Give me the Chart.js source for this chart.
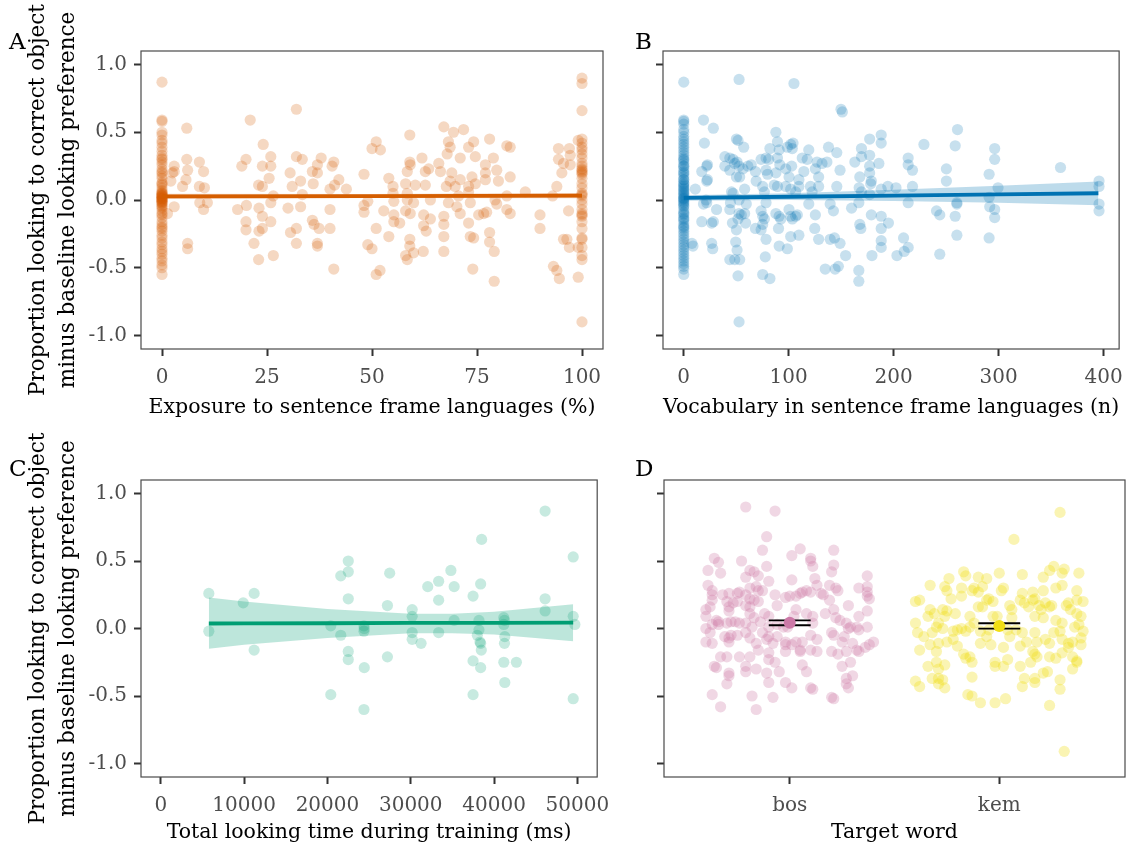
<!DOCTYPE html>
<html>
<head>
<meta charset="utf-8">
<script src="https://cdn.jsdelivr.net/npm/chart.js@4.4.1/dist/chart.umd.min.js"></script>
<style>
  html, body { margin: 0; padding: 0; background: #fff; }
  #page { position: relative; width: 1133px; height: 847px; }
  canvas { position: absolute; }
</style>
</head>
<body>
<div id="page">
  <canvas id="panel-a" width="620" height="424" style="left:0;top:0"></canvas>
  <canvas id="panel-b" width="513" height="424" style="left:620px;top:0"></canvas>
  <canvas id="panel-c" width="620" height="423" style="left:0;top:424px"></canvas>
  <canvas id="panel-d" width="513" height="423" style="left:620px;top:424px"></canvas>
</div>
<script>
// ---- data ----
const yTicks = [-1, -0.5, 0, 0.5, 1];
const yTickLabels = ['-1.0', '-0.5', '0.0', '0.5', '1.0'];
const exposureTicks = [0, 25, 50, 75, 100];
const vocabTicks = [0, 100, 200, 300, 400];
const lookingTicks = [0, 10000, 20000, 30000, 40000, 50000];
const targetWords = ['bos', 'kem'];

// panel A: children with 0 % and 100 % exposure, then the rest
const exposureZeroY = [0.87,0.59,0.58,0.50,0.48,0.44,0.42,0.39,0.36,0.33,0.31,0.28,0.26,0.23,0.21,0.18,0.16,0.13,0.11,0.09,0.06,0.05,0.04,0.03,0.02,0.01,0.00,-0.01,-0.02,-0.03,-0.04,-0.06,-0.08,-0.11,-0.13,-0.16,-0.18,-0.21,-0.23,-0.26,-0.28,-0.31,-0.33,-0.36,-0.38,-0.40,-0.43,-0.45,-0.48,-0.50,-0.55,0.02,0.04,0.00,-0.02,0.01,0.05,0.03,-0.05,0.07,0.12,-0.10,0.20,-0.20,0.30,0.03,0.01,-0.01];
const exposureFullY = [0.90,0.86,0.66,0.45,0.42,0.39,0.37,0.34,0.31,0.27,0.23,0.22,0.19,0.16,0.12,0.09,0.05,0.03,0.00,-0.03,-0.07,-0.11,-0.12,-0.16,-0.21,-0.28,-0.29,-0.35,-0.41,-0.44,-0.90,0.20,0.25,-0.10,0.21,0.04];
const exposurePoints = [
  [2.9,0.25],[2.5,0.20],[2.9,0.21],[2.1,0.14],[5.9,0.53],[5.9,0.30],[6.1,0.22],[4.9,0.10],[5.7,0.15],[8.9,0.28],
  [9.9,0.21],[8.9,0.10],[10.1,0.09],[9.0,-0.02],[9.9,-0.07],[10.8,-0.02],[2.9,-0.05],[1.3,-0.10],[6.1,-0.32],[6.1,-0.36],
  [18.0,-0.07],[19.0,0.25],[20.0,0.30],[21.0,0.59],[20.1,-0.04],[20.0,-0.16],[20.0,-0.22],[21.9,-0.32],[23.0,-0.44],[23.1,-0.23],
  [23.9,-0.21],[23.1,-0.06],[23.9,-0.12],[23.9,0.25],[24.1,0.41],[23.0,0.11],[25.9,0.32],[25.9,0.25],[25.5,0.16],[25.9,-0.16],
  [26.5,-0.41],[26.5,0.03],[25.9,-0.02],[23.9,0.10],[30.5,0.20],[30.0,-0.06],[30.6,-0.24],[32.0,-0.32],[32.0,-0.21],[31.0,0.10],
  [32.0,0.32],[33.4,0.30],[33.0,0.14],[33.0,-0.05],[33.4,0.04],[32.0,0.67],[36.0,0.12],[35.8,0.21],[37.0,0.26],[37.9,0.31],
  [37.0,0.20],[35.8,-0.15],[36.2,-0.18],[37.4,-0.21],[37.0,-0.32],[37.0,-0.34],[40.0,-0.21],[40.0,-0.07],[40.5,0.25],[40.9,0.28],
  [40.9,-0.51],[41.1,0.11],[42.1,0.15],[43.9,0.08],[40.0,0.08],[48.1,0.19],[48.1,-0.04],[48.1,-0.09],[49.0,-0.01],[49.0,-0.33],
  [50.0,-0.36],[51.0,0.43],[50.0,0.38],[52.0,0.37],[51.0,-0.21],[54.0,0.16],[54.0,-0.27],[51.0,-0.55],[51.9,-0.52],[52.8,-0.08],
  [55.0,0.10],[55.0,0.05],[55.2,-0.01],[55.2,-0.11],[55.2,-0.16],[56.6,-0.17],[58.0,0.12],[58.4,0.05],[59.0,0.48],[59.0,0.28],
  [59.1,0.26],[58.4,0.21],[58.0,-0.08],[58.4,0.00],[59.9,-0.02],[59.1,-0.10],[60.3,0.11],[59.0,-0.29],[59.0,-0.34],[58.0,-0.41],
  [58.4,-0.44],[59.9,-0.39],[61.9,0.31],[62.2,-0.38],[62.3,-0.11],[62.3,-0.19],[62.9,-0.23],[62.7,0.11],[62.7,0.21],[63.5,0.23],
  [63.9,0.00],[63.9,-0.14],[65.9,0.27],[66.3,0.21],[67.1,0.54],[67.1,-0.12],[67.1,-0.18],[67.1,-0.27],[67.1,-0.38],[67.7,0.10],
  [67.9,0.34],[68.2,0.43],[68.6,0.39],[68.2,-0.02],[68.6,0.14],[69.0,0.20],[69.4,0.50],[69.8,0.10],[71.0,0.31],[71.0,0.15],
  [70.6,0.03],[70.2,-0.05],[71.0,-0.10],[71.8,0.52],[73.0,0.39],[73.0,0.10],[73.0,0.06],[73.4,-0.02],[73.0,-0.17],[73.4,-0.27],
  [74.2,-0.28],[74.0,-0.51],[74.2,0.43],[74.6,0.32],[73.8,0.17],[74.6,0.12],[75.4,-0.11],[76.6,-0.10],[77.0,0.26],[77.0,0.20],
  [77.0,0.15],[77.3,-0.09],[78.0,0.45],[78.0,-0.24],[78.0,-0.31],[78.9,0.31],[79.1,-0.38],[79.1,-0.60],[79.7,0.22],[80.1,0.14],
  [79.3,0.00],[79.7,-0.03],[82.1,0.40],[82.9,0.39],[82.9,0.17],[82.1,0.03],[82.1,-0.07],[82.9,-0.10],[86.5,0.06],[90.0,-0.11],
  [90.0,-0.21],[93.2,-0.49],[94.0,-0.52],[94.6,-0.58],[94.0,0.10],[93.0,0.03],[94.4,0.38],[94.4,0.30],[95.2,0.20],[95.6,0.27],
  [95.6,-0.29],[96.4,-0.29],[96.8,-0.08],[97.0,0.38],[97.2,0.33],[97.2,0.26],[97.0,-0.35],[99.1,-0.57],[99.1,-0.35],[99.1,0.44]
];
const exposureFitX = [0, 50, 100];
const exposureFit = [0.027, 0.029, 0.032];
const exposureFitLo = [0.008, 0.014, 0.012];
const exposureFitHi = [0.046, 0.044, 0.052];

// panel B: children with no vocabulary in the frame languages, then the rest
const vocabZeroY = [0.87,0.59,0.58,0.56,0.52,0.50,0.47,0.45,0.43,0.41,0.39,0.37,0.35,0.33,0.31,0.29,0.27,0.25,0.23,0.21,0.19,0.17,0.15,0.13,0.11,0.09,0.07,0.05,0.03,0.01,-0.01,-0.03,-0.05,-0.07,-0.09,-0.11,-0.13,-0.15,-0.17,-0.19,-0.21,-0.23,-0.25,-0.27,-0.29,-0.31,-0.33,-0.35,-0.37,-0.39,-0.41,-0.43,-0.45,-0.47,-0.49,-0.51,-0.55,0.02,0.00,0.04,-0.02,0.06,0.10,0.15,0.20,0.25,-0.10,-0.20,0.30,0.01,-0.04,0.08,0.12,-0.14];
const vocabPoints = [
  [18.8,0.59],[28.2,0.53],[19.7,0.42],[7.8,-0.32],[8.8,-0.34],[11.0,0.08],[17.2,0.21],[21.9,0.25],[22.6,0.26],[22.6,0.15],
  [21.9,0.14],[21.3,0.00],[18.8,-0.03],[21.9,-0.02],[17.2,-0.16],[26.6,-0.17],[28.2,-0.16],[26.6,-0.32],[27.6,-0.36],[31.3,-0.07],
  [39.2,0.32],[39.2,0.25],[43.9,0.31],[43.9,0.22],[47.0,0.30],[48.6,0.27],[50.8,0.28],[52.7,0.25],[50.2,0.45],[51.7,0.44],
  [57.1,0.39],[45.5,0.06],[47.0,0.05],[44.5,-0.02],[43.9,-0.07],[46.4,-0.17],[50.2,-0.22],[51.7,-0.14],[52.7,-0.10],[54.9,-0.11],
  [58.0,-0.10],[59.6,-0.03],[58.9,-0.17],[52.7,0.00],[58.0,0.08],[50.2,0.17],[53.3,0.17],[56.4,0.23],[61.1,0.25],[64.3,0.26],
  [68.3,0.21],[69.0,0.14],[43.9,-0.44],[48.6,-0.44],[53.3,-0.44],[50.8,-0.37],[49.5,-0.31],[51.7,-0.56],[52.7,-0.90],[52.7,0.89],
  [73.7,0.30],[78.4,0.31],[80.9,0.30],[82.1,0.38],[78.4,0.22],[79.9,0.19],[75.2,0.10],[76.8,0.06],[78.4,-0.02],[73.7,-0.08],
  [75.2,-0.12],[76.8,-0.14],[75.2,-0.18],[68.3,-0.21],[73.7,-0.22],[78.4,-0.29],[77.7,-0.42],[75.2,-0.55],[82.1,-0.58],[87.8,0.50],
  [89.3,0.43],[90.9,0.37],[89.3,0.31],[91.5,0.26],[87.8,0.20],[86.2,0.11],[89.3,0.10],[87.8,-0.10],[90.9,-0.12],[92.5,-0.14],
  [90.3,-0.21],[90.9,-0.34],[98.7,-0.36],[98.7,0.39],[101.9,0.41],[103.4,0.38],[104.1,0.42],[102.8,0.25],[97.2,0.23],[100.3,0.17],
  [97.2,0.10],[101.9,0.08],[106.6,0.06],[109.7,0.15],[109.7,0.10],[100.3,-0.07],[101.9,-0.12],[103.4,-0.14],[106.6,-0.12],[108.2,-0.11],
  [101.9,-0.27],[109.7,-0.26],[112.9,0.31],[114.4,0.21],[117.6,0.30],[119.1,0.37],[120.7,0.10],[122.3,0.06],[119.1,-0.03],[125.4,-0.11],
  [125.4,0.23],[127.0,0.28],[128.5,0.17],[128.5,0.10],[131.7,0.27],[136.4,0.28],[124.8,-0.21],[128.5,-0.29],[137.9,0.39],[145.8,0.35],
  [145.8,0.10],[148.9,0.22],[142.6,-0.08],[139.5,-0.03],[139.5,-0.29],[143.6,-0.28],[148.9,-0.32],[154.2,-0.41],[134.8,-0.51],[144.2,-0.51],
  [147.3,-0.49],[149.8,0.67],[151.1,0.65],[105.0,0.86],[163.0,0.28],[169.3,0.38],[169.3,0.32],[167.7,0.17],[167.1,0.09],[169.3,0.06],
  [166.8,-0.02],[159.9,-0.06],[167.7,-0.18],[168.7,-0.21],[177.1,0.45],[177.1,0.33],[177.1,0.25],[177.1,0.20],[178.1,0.12],[178.7,0.14],
  [177.1,0.04],[178.7,-0.11],[188.1,0.48],[188.1,0.42],[185.9,0.27],[188.1,0.08],[188.1,-0.12],[188.1,-0.21],[195.0,-0.17],[194.4,0.10],
  [202.2,0.09],[188.1,-0.30],[188.1,-0.35],[179.3,-0.41],[166.8,-0.52],[166.8,-0.60],[203.1,-0.41],[209.4,-0.28],[210.0,-0.38],[213.8,-0.35],
  [213.8,0.31],[213.8,0.26],[217.9,0.22],[217.9,0.10],[213.8,-0.02],[228.8,0.41],[240.8,-0.08],[243.9,-0.11],[243.9,-0.40],[250.2,0.23],
  [250.2,0.14],[258.6,0.40],[260.8,0.52],[260.2,-0.02],[260.2,-0.03],[258.6,-0.12],[260.2,-0.26],[290.9,0.19],[296.2,0.38],[296.2,0.30],
  [299.4,0.09],[290.9,0.02],[291.5,-0.05],[296.2,-0.07],[296.2,-0.13],[290.9,-0.28],[358.9,0.24],[395.6,0.14],[395.6,0.10],[395.6,-0.03],
  [395.6,-0.08]
];
const vocabFitX = [0, 100, 200, 300, 395];
const vocabFit = [0.015, 0.024, 0.033, 0.042, 0.05];
const vocabFitLo = [-0.005, 0.0, -0.008, -0.02, -0.038];
const vocabFitHi = [0.035, 0.05, 0.075, 0.105, 0.137];

// panel C: looking time during training
const lookingPoints = [
  [5760,0.26],[5760,-0.02],[9890,0.19],[11200,0.26],[11200,-0.16],[20400,0.02],[20400,-0.49],[21600,0.39],[21600,-0.05],[22500,0.50],
  [22500,0.42],[22500,0.22],[22500,-0.17],[22500,-0.23],[24380,0.02],[24380,-0.02],[24420,0.00],[24420,-0.29],[24380,-0.60],[27200,0.17],
  [27200,-0.21],[27470,0.41],[30170,0.14],[30170,0.09],[30170,-0.03],[30170,-0.08],[31240,-0.11],[32040,0.31],[33350,0.35],[33350,0.21],
  [33350,-0.03],[34820,0.43],[35210,0.31],[35210,0.06],[37480,0.24],[37480,-0.24],[37480,-0.49],[38190,0.06],[38190,-0.01],[37990,-0.05],
  [38310,-0.10],[38390,0.33],[38390,-0.11],[38470,-0.16],[38390,-0.29],[38510,0.66],[41170,0.08],[41250,0.06],[41170,0.03],[41290,-0.06],
  [41250,-0.11],[41170,-0.25],[41290,-0.40],[42680,-0.25],[46130,0.87],[46130,0.22],[46130,0.13],[49500,0.53],[49500,0.09],[49700,0.03],
  [49500,-0.52]
];
const lookingFitX = [5760, 10000, 20000, 30000, 35000, 40000, 49500];
const lookingFit = [0.037, 0.038, 0.039, 0.041, 0.042, 0.042, 0.044];
const lookingFitLo = [-0.15, -0.12, -0.07, -0.035, -0.035, -0.045, -0.095];
const lookingFitHi = [0.23, 0.20, 0.145, 0.11, 0.11, 0.125, 0.18];

// panel D: target word, x is the jittered category position
const bosPoints = [
  [0.79,0.90],[0.93,0.87],[0.89,0.68],[0.87,0.58],[1.05,0.59],[1.01,0.54],[1.10,0.52],[1.10,0.50],[1.11,0.46],[1.21,0.58],
  [1.21,0.47],[1.20,0.42],[1.37,0.39],[0.64,0.52],[0.66,0.49],[0.77,0.50],[0.61,0.43],[0.67,0.41],[0.81,0.43],[0.83,0.42],
  [0.85,0.39],[0.89,0.46],[0.90,0.35],[1.01,0.36],[1.12,0.37],[0.79,0.38],[0.61,0.32],[0.63,0.28],[0.63,0.25],[0.63,0.21],
  [0.60,0.14],[0.62,0.16],[0.68,0.25],[0.71,0.26],[0.75,0.26],[0.76,0.27],[0.81,0.30],[0.84,0.31],[0.85,0.28],[0.79,0.25],
  [0.81,0.22],[0.83,0.21],[0.85,0.20],[0.87,0.28],[0.70,0.20],[0.71,0.16],[0.73,0.19],[0.75,0.20],[0.71,0.13],[0.79,0.17],
  [0.81,0.16],[0.93,0.25],[0.94,0.17],[0.98,0.23],[1.00,0.24],[1.03,0.24],[1.05,0.26],[1.06,0.27],[1.08,0.28],[1.10,0.27],
  [1.13,0.32],[1.16,0.25],[1.15,0.26],[1.19,0.32],[1.22,0.30],[1.23,0.28],[1.33,0.30],[1.37,0.31],[1.37,0.27],[1.38,0.22],
  [1.37,0.24],[1.19,0.21],[1.28,0.17],[1.21,0.14],[1.17,0.11],[1.22,0.08],[1.24,0.06],[1.27,0.04],[1.29,0.01],[1.32,0.01],
  [1.33,0.09],[1.37,0.13],[1.37,0.01],[1.33,-0.01],[1.28,0.00],[1.26,-0.06],[1.20,-0.03],[1.21,-0.05],[1.25,-0.10],[1.30,-0.11],
  [1.32,-0.16],[1.33,-0.17],[1.36,-0.14],[1.38,-0.12],[1.40,-0.10],[1.27,-0.17],[1.23,-0.19],[1.20,-0.17],[1.13,-0.17],[1.10,-0.16],
  [1.05,-0.17],[1.03,-0.10],[1.06,-0.10],[1.10,-0.05],[1.13,-0.08],[1.11,0.09],[1.11,0.04],[1.08,0.11],[1.03,0.14],[1.02,0.09],
  [0.99,0.01],[0.97,0.01],[0.94,0.03],[0.90,0.01],[0.90,0.09],[0.88,0.11],[0.86,0.05],[0.83,0.08],[0.81,0.11],[0.82,0.01],
  [0.79,0.04],[0.76,0.04],[0.74,0.05],[0.72,0.05],[0.70,0.04],[0.66,0.05],[0.66,0.03],[0.65,0.06],[0.63,0.03],[0.60,0.09],
  [0.60,0.00],[0.62,-0.03],[0.60,-0.10],[0.63,-0.11],[0.69,-0.06],[0.71,-0.07],[0.71,-0.10],[0.72,-0.05],[0.75,-0.05],[0.79,-0.03],
  [0.81,-0.07],[0.84,-0.11],[0.87,-0.03],[0.89,-0.08],[0.90,-0.06],[0.92,-0.11],[0.94,-0.06],[0.98,-0.10],[0.98,-0.12],[1.01,-0.12],
  [0.98,-0.17],[1.05,-0.16],[0.67,-0.21],[0.70,-0.21],[0.76,-0.21],[0.81,-0.21],[0.85,-0.16],[0.90,-0.18],[0.90,-0.23],[0.93,-0.25],
  [0.95,-0.32],[0.89,-0.33],[0.84,-0.30],[0.79,-0.32],[0.79,-0.28],[0.65,-0.29],[0.64,-0.28],[0.71,-0.33],[0.71,-0.35],[0.70,-0.41],
  [0.98,-0.40],[1.01,-0.44],[0.90,-0.40],[1.06,-0.27],[1.08,-0.32],[1.25,-0.28],[1.29,-0.25],[1.30,-0.35],[1.27,-0.37],[1.27,-0.41],
  [1.28,-0.44],[1.10,-0.44],[1.11,-0.45],[1.20,-0.51],[1.21,-0.52],[0.92,-0.51],[0.82,-0.50],[0.63,-0.49],[0.67,-0.58],[0.84,-0.60]
];
const kemPoints = [
  [2.29,0.86],[2.07,0.66],[2.00,0.41],[2.11,0.40],[1.83,0.42],[1.84,0.39],[1.76,0.37],[1.90,0.38],[1.94,0.37],[2.21,0.38],
  [2.24,0.43],[2.26,0.46],[2.30,0.41],[2.31,0.44],[2.38,0.41],[1.67,0.32],[1.74,0.31],[1.75,0.28],[1.77,0.22],[1.82,0.24],
  [1.82,0.30],[1.87,0.28],[1.88,0.30],[1.90,0.27],[1.92,0.31],[2.02,0.30],[2.01,0.28],[2.11,0.26],[2.16,0.27],[2.21,0.28],
  [2.27,0.30],[2.30,0.32],[2.37,0.28],[2.37,0.21],[2.40,0.20],[1.62,0.21],[1.60,0.20],[1.67,0.14],[1.66,0.09],[1.69,0.11],
  [1.73,0.14],[1.74,0.09],[1.75,0.13],[1.79,0.11],[1.86,0.09],[1.90,0.16],[1.92,0.16],[1.94,0.21],[1.95,0.22],[1.97,0.20],
  [1.97,0.09],[1.99,0.09],[2.05,0.17],[2.06,0.14],[2.06,0.08],[2.10,0.21],[2.12,0.19],[2.14,0.16],[2.16,0.21],[2.17,0.22],
  [2.19,0.17],[2.20,0.14],[2.22,0.19],[2.24,0.16],[2.25,0.17],[2.17,0.09],[2.21,0.08],[2.27,0.06],[2.32,0.17],[2.33,0.19],
  [2.34,0.14],[2.37,0.11],[2.39,0.09],[2.30,0.04],[2.36,0.01],[2.38,0.03],[1.60,0.04],[1.61,-0.03],[1.64,-0.06],[1.68,-0.03],
  [1.70,0.01],[1.73,0.00],[1.71,0.04],[1.78,-0.02],[1.80,-0.01],[1.82,0.00],[1.84,-0.02],[1.86,0.01],[1.88,0.04],[1.91,-0.02],
  [1.94,-0.06],[1.95,-0.01],[2.04,-0.01],[2.05,-0.06],[2.08,-0.01],[2.11,-0.03],[2.13,-0.10],[2.17,-0.03],[2.18,-0.10],[2.22,-0.08],
  [2.24,-0.11],[2.26,-0.03],[2.29,-0.02],[2.30,-0.08],[2.33,-0.11],[2.35,-0.10],[2.39,-0.07],[2.40,-0.02],[2.39,-0.12],[1.62,-0.16],
  [1.67,-0.12],[1.70,-0.17],[1.71,-0.11],[1.75,-0.10],[1.78,-0.08],[1.80,-0.13],[1.83,-0.19],[1.84,-0.22],[1.86,-0.21],[1.91,-0.11],
  [1.96,-0.12],[2.02,-0.14],[2.10,-0.13],[2.16,-0.17],[2.17,-0.19],[2.18,-0.21],[2.24,-0.21],[2.27,-0.22],[2.30,-0.18],[2.33,-0.14],
  [2.35,-0.21],[2.37,-0.24],[2.37,-0.25],[2.35,-0.30],[1.66,-0.28],[1.70,-0.25],[1.71,-0.30],[1.74,-0.27],[1.87,-0.25],[1.98,-0.25],
  [1.98,-0.28],[2.02,-0.28],[2.04,-0.23],[2.10,-0.28],[2.15,-0.25],[2.21,-0.33],[2.23,-0.32],[2.12,-0.37],[2.17,-0.37],[2.17,-0.40],
  [2.29,-0.38],[2.29,-0.45],[2.11,-0.43],[1.60,-0.39],[1.62,-0.43],[1.68,-0.37],[1.71,-0.37],[1.73,-0.38],[1.74,-0.44],[1.71,-0.41],
  [1.87,-0.36],[1.85,-0.49],[1.87,-0.50],[1.91,-0.55],[1.98,-0.55],[2.03,-0.52],[2.24,-0.57],[2.31,-0.91]
];
const wordMeans = [0.042, 0.019];
const wordSE = [0.018, 0.02];
const errorHalfWidth = 0.1;

// ---- styling ----
const TICK_GREY = '#4d4d4d';
const AXIS_DARK = '#333333';
const FONT = '"DejaVu Serif", serif';
Chart.defaults.font.family = FONT;
Chart.defaults.animation = false;

const panelFrame = {
  id: 'panelFrame',
  afterDatasetsDraw(chart, args, opts) {
    const { ctx, chartArea: a } = chart;
    ctx.save();
    ctx.strokeStyle = '#4a4a4a';
    ctx.lineWidth = 1.2;
    ctx.strokeRect(a.left, a.top, a.right - a.left, a.bottom - a.top);
    ctx.fillStyle = '#000';
    ctx.font = '23px ' + FONT;
    ctx.textBaseline = 'alphabetic';
    ctx.fillText(opts.tag, opts.x, opts.y);
    ctx.restore();
  }
};

function xy(pairs) {
  return pairs.map(([x, y]) => ({ x, y }));
}

function column(x, ys) {
  return ys.map((y) => ({ x, y }));
}

function series(xs, ys) {
  return xs.map((x, i) => ({ x, y: ys[i] }));
}

function scatterSet(data, rgb, alpha) {
  return {
    type: 'scatter',
    data,
    backgroundColor: `rgba(${rgb}, ${alpha})`,
    borderWidth: 0,
    pointRadius: 5.6,
    order: 3,
  };
}

// regression line + confidence ribbon
function fitSets(xs, fit, lo, hi, rgb) {
  return [
    { type: 'line', data: series(xs, hi), borderWidth: 0, pointRadius: 0, fill: '+1', backgroundColor: `rgba(${rgb}, 0.26)`, order: 2 },
    { type: 'line', data: series(xs, lo), borderWidth: 0, pointRadius: 0, fill: false, order: 2 },
    { type: 'line', data: series(xs, fit), borderColor: `rgb(${rgb})`, borderWidth: 3.8, pointRadius: 0, fill: false, order: 1 },
  ];
}

function makeChart(id, o) {
  const ticksAt = (values) => (scale) => { scale.ticks = values.map((value) => ({ value })); };
  new Chart(document.getElementById(id), {
    type: 'scatter',
    data: { datasets: o.datasets },
    options: {
      responsive: false,
      layout: { padding: o.padding },
      plugins: { legend: { display: false }, tooltip: { enabled: false }, panelFrame: o.tag },
      scales: {
        x: {
          type: 'linear', min: o.xMin, max: o.xMax,
          afterBuildTicks: ticksAt(o.xTicks),
          afterFit: (s) => { s.height = o.xHeight; },
          grid: { drawOnChartArea: false, drawTicks: true, tickLength: 7, tickWidth: 2, tickColor: AXIS_DARK },
          border: { display: false },
          ticks: { color: TICK_GREY, font: { size: 20 }, padding: 10, maxRotation: 0, autoSkip: false, callback: o.xLabel },
          title: { display: true, text: o.xTitle, color: '#000', font: { size: 20.5, lineHeight: 1.4 }, padding: { top: 0, bottom: o.xTitlePad } },
        },
        y: {
          type: 'linear', min: -1.1, max: 1.1,
          afterBuildTicks: ticksAt(yTicks),
          afterFit: (s) => { s.width = o.yWidth; },
          grid: { drawOnChartArea: false, drawTicks: true, tickLength: 7, tickWidth: 2, tickColor: AXIS_DARK },
          border: { display: false },
          ticks: { display: o.yLabels, color: TICK_GREY, font: { size: 20 }, padding: 7, autoSkip: false,
            callback: (v) => yTickLabels[yTicks.indexOf(v)] },
          title: { display: o.yLabels, text: ['Proportion looking to correct object', 'minus baseline looking preference'],
            color: '#000', font: { size: 21.5, lineHeight: 1.4 }, padding: { top: 23, bottom: 0 } },
        },
      },
    },
    plugins: [panelFrame],
  });
}

makeChart('panel-a', {
  tag: { tag: 'A', x: 9, y: 49 },
  padding: { top: 51, right: 17, left: 0, bottom: 0 },
  yWidth: 141, xHeight: 75, yLabels: true, xTitlePad: 2,
  xMin: -5, xMax: 105, xTicks: exposureTicks, xLabel: (v) => String(v),
  xTitle: 'Exposure to sentence frame languages (%)',
  datasets: [
    scatterSet(column(0, exposureZeroY).concat(column(100, exposureFullY), xy(exposurePoints)), '213, 94, 0', 0.24),
    ...fitSets(exposureFitX, exposureFit, exposureFitLo, exposureFitHi, '213, 94, 0'),
  ],
});

makeChart('panel-b', {
  tag: { tag: 'B', x: 15, y: 49 },
  padding: { top: 51, right: 8, left: 0, bottom: 0 },
  yWidth: 43, xHeight: 75, yLabels: false, xTitlePad: 2,
  xMin: -19.75, xMax: 414.75, xTicks: vocabTicks, xLabel: (v) => String(v),
  xTitle: 'Vocabulary in sentence frame languages (n)',
  datasets: [
    scatterSet(column(0, vocabZeroY).concat(xy(vocabPoints)), '0, 114, 178', 0.22),
    ...fitSets(vocabFitX, vocabFit, vocabFitLo, vocabFitHi, '0, 114, 178'),
  ],
});

makeChart('panel-c', {
  tag: { tag: 'C', x: 9, y: 52 },
  padding: { top: 56, right: 19, left: 0, bottom: 0 },
  yWidth: 141, xHeight: 70, yLabels: true, xTitlePad: 0,
  xMin: -2380, xMax: 52380, xTicks: lookingTicks, xLabel: (v) => String(v),
  xTitle: 'Total looking time during training (ms)',
  datasets: [
    scatterSet(xy(lookingPoints), '0, 158, 115', 0.22),
    ...fitSets(lookingFitX, lookingFit, lookingFitLo, lookingFitHi, '0, 158, 115'),
  ],
});

const wordColors = ['204, 121, 167', '240, 222, 20'];
const errorSets = [];
wordMeans.forEach((m, i) => {
  const c = i + 1;
  [m + wordSE[i], m - wordSE[i]].forEach((yv) => {
    errorSets.push({ type: 'line', data: [{ x: c - errorHalfWidth, y: yv }, { x: c + errorHalfWidth, y: yv }],
      borderColor: '#000', borderWidth: 1.8, pointRadius: 0, fill: false, order: 1 });
  });
  errorSets.push({ type: 'scatter', data: [{ x: c, y: m }], backgroundColor: `rgb(${wordColors[i]})`,
    borderWidth: 0, pointRadius: 6, order: 0 });
});

makeChart('panel-d', {
  tag: { tag: 'D', x: 15, y: 52 },
  padding: { top: 56, right: 8, left: 0, bottom: 0 },
  yWidth: 44, xHeight: 70, yLabels: false, xTitlePad: 0,
  xMin: 0.4, xMax: 2.6, xTicks: [1, 2], xLabel: (v) => targetWords[v - 1],
  xTitle: 'Target word',
  datasets: [
    scatterSet(xy(bosPoints), wordColors[0], 0.3),
    scatterSet(xy(kemPoints), wordColors[1], 0.32),
    ...errorSets,
  ],
});
</script>
</body>
</html>
